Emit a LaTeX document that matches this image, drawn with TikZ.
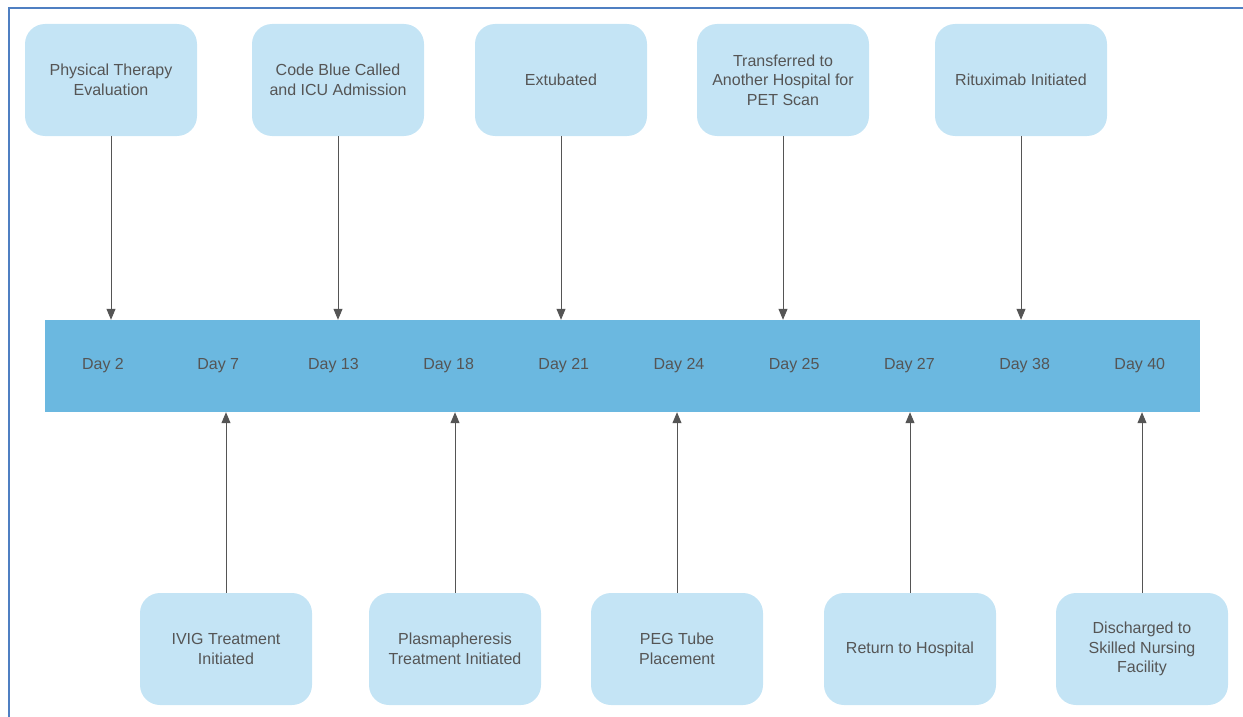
\documentclass[tikz,border=0pt]{standalone}
\usepackage{fontspec}
\setmainfont{Liberation Sans}
\usetikzlibrary{arrows.meta}
\definecolor{boxblue}{HTML}{C4E4F5}
\definecolor{barblue}{HTML}{6BB8E0}
\definecolor{txtgray}{HTML}{555555}
\definecolor{frameblue}{HTML}{4F7FC2}
\tikzset{
  event/.style={fill=boxblue, rounded corners=20pt, minimum width=172pt,
    minimum height=112pt, inner sep=0pt, align=center, text=txtgray,
    font=\fontsize{16}{19.5}\selectfont},
  daybar/.style={fill=barblue, minimum width=1155pt, minimum height=92pt, inner sep=0pt},
  daylabel/.style={text=txtgray, inner sep=0pt, font=\fontsize{16}{19.5}\selectfont},
  tick/.style={draw=txtgray, line width=1pt, -{Triangle[length=11pt,width=9pt]}}
}
\begin{document}
\begin{tikzpicture}[x=1pt,y=-1pt]
  \useasboundingbox (0,0) rectangle (1243,717);
  \draw[frameblue, line width=2pt] (9,717) -- (9,8.5) -- (1243,8.5);

  % timeline bar
  \node[daybar] (bar) at (622.5,366) {};
  \foreach \d[count=\i] in {2,7,13,18,21,24,25,27,38,40} {
    \node[daylabel] (day\i) at ({103+115.2*(\i-1)},366) {Day \d};
  }

  % events above
  \foreach \x/\txt[count=\i] in {111/{Physical Therapy\\Evaluation},
      338/{Code Blue Called\\and ICU Admission}, 561/{Extubated},
      783/{Transferred to\\Another Hospital for\\PET Scan}, 1021/{Rituximab Initiated}} {
    \node[event] (top\i) at (\x,80) {\txt};
    \draw[tick] (top\i.south) -- (top\i.south |- bar.north);
  }

  % events below
  \foreach \x/\txt[count=\i] in {226/{IVIG Treatment\\Initiated},
      455/{Plasmapheresis\\Treatment Initiated}, 677/{PEG Tube\\Placement},
      910/{Return to Hospital}, 1142/{Discharged to\\Skilled Nursing\\Facility}} {
    \node[event] (bot\i) at (\x,649) {\txt};
    \draw[tick] (bot\i.north) -- (bot\i.north |- bar.south);
  }
\end{tikzpicture}
\end{document}
